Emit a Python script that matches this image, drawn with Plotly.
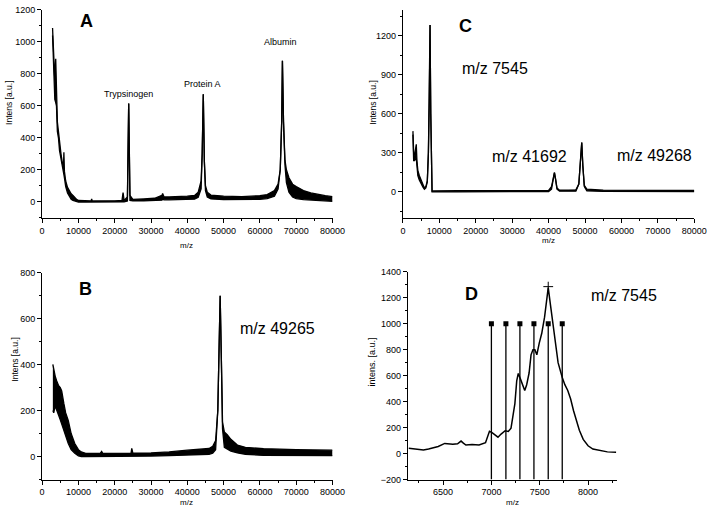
import plotly.graph_objects as go

W, H = 720, 512

# ---------------- Panel A ----------------
a_mz = [2880, 3050, 3250, 3500, 3750, 3950, 4200, 4500, 4800, 5200, 5600, 5900, 6000, 6150,
        6500, 7000, 7500, 8000, 8500, 9000, 9500, 10000, 12000, 13500, 13650, 13800, 20000,
        22000, 22300, 22600, 23500, 23850, 24200, 25000, 28000, 31000, 33000, 33200, 33600,
        35000, 40000, 42000, 43000, 43800, 44100, 44400, 44700, 45000, 45500, 46500, 50000,
        55000, 60000, 62000, 64000, 65000, 65600, 66000, 66200, 66500, 66900, 67300, 68000,
        69000, 70000, 72000, 74000, 76000, 78000, 80000]
a_up = [1087, 1000, 820, 760, 895, 640, 500, 440, 360, 300, 240, 230, 310, 190,
        130, 90, 70, 50, 40, 25, 15, 8, 5, 5, 18, 5, 6,
        8, 57, 8, 30, 615, 40, 15, 18, 22, 40, 52, 30,
        30, 35, 40, 60, 130, 300, 673, 250, 100, 60, 42, 35,
        32, 38, 45, 70, 110, 200, 500, 882, 500, 260, 200, 150,
        110, 95, 70, 55, 45, 38, 32]
a_lo = [1040, 900, 690, 640, 620, 600, 440, 400, 320, 260, 200, 180, 170, 150,
        95, 55, 35, 15, 8, 3, 0, -2, -2, -2, -2, -2, -1,
        0, 0, 0, 5, 615, 8, 5, 5, 6, 10, 15, 12,
        12, 14, 16, 28, 80, 300, 673, 250, 70, 30, 18, 14,
        14, 15, 20, 35, 80, 200, 500, 882, 500, 230, 120, 60,
        30, 20, 14, 12, 8, 5, 3]

# ---------------- Panel B ----------------
b_mz = [2960, 3200, 3600, 4000, 4500, 5000, 5400, 6000, 6500, 7200, 8000, 9000, 10000, 10800,
        12000, 16000, 16400, 16700, 20000, 24500, 24700, 25000, 30000, 35000, 40000, 44000,
        46000, 47000, 47800, 48400, 48800, 49050, 49350, 49700, 50200, 51000, 52000, 53800,
        56000, 61000, 70000, 80000]
b_up = [401, 380, 350, 330, 310, 300, 285, 230, 190, 157, 100, 57, 30, 20,
        14, 14, 22, 14, 14, 15, 36, 15, 16, 20, 28, 32,
        35, 45, 70, 200, 550, 700, 450, 150, 107, 95, 75, 50,
        40, 34, 30, 28]
b_lo = [200, 190, 220, 200, 175, 160, 142, 110, 85, 57, 30, 14, 3, 0,
        0, 0, 0, 0, 0, 2, 2, 2, 2, 4, 6, 8,
        10, 15, 30, 200, 550, 700, 450, 120, 40, 34, 24, 16,
        10, 5, 4, 4]

# ---------------- Panel C ----------------
c_mz = [2750, 2950, 3200, 3500, 3670, 3850, 4100, 4500, 5000, 5500, 5900, 6300, 6700, 7000,
        7250, 7450, 7650, 7800, 8000, 15000, 24000, 24800, 25500, 35000, 40000, 40800, 41300,
        41600, 41900, 42300, 43000, 47500, 48300, 48800, 49100, 49400, 49800, 50500, 55000,
        80000]
c_up = [467, 300, 280, 330, 366, 240, 165, 125, 85, 55, 30, 40, 85, 300,
        700, 1283, 600, 20, 6, 8, 10, 12, 8, 8, 10, 40, 120,
        147, 100, 30, 12, 15, 60, 250, 379, 200, 50, 20, 12,
        10]
c_lo = [440, 240, 240, 250, 260, 200, 125, 90, 60, 35, 20, 30, 75, 300,
        700, 1283, 600, 20, 0, 0, 0, 2, 0, 0, 2, 20, 120,
        147, 100, 20, 5, 5, 60, 250, 379, 200, 40, 8, 3,
        2]

# ---------------- Panel D ----------------
d_mz = [6145, 6220, 6297, 6350, 6399, 6450, 6517, 6560, 6601, 6650, 6686, 6710, 6736, 6800,
        6872, 6939, 6980, 7007, 7040, 7068, 7100, 7142, 7175, 7203, 7225, 7243, 7262, 7278,
        7300, 7320, 7345, 7365, 7390, 7410, 7430, 7450, 7470, 7495, 7521, 7550, 7570, 7588,
        7610, 7632, 7660, 7690, 7733, 7760, 7790, 7820, 7850, 7880, 7910, 7950, 8000, 8050,
        8120, 8200, 8290]
d_int = [41, 35, 28, 35, 45, 55, 78, 75, 71, 75, 96, 80, 66, 70,
         66, 83, 171, 161, 140, 126, 150, 176, 170, 196, 300, 385, 560, 617,
         575, 530, 486, 530, 620, 760, 800, 800, 760, 850, 926, 1050, 1200, 1278,
         1150, 1014, 850, 700, 586, 530, 486, 420, 330, 250, 180, 109, 60, 35,
         22, 13, 10]
d_stick_mz = [7000, 7150, 7295, 7440, 7588, 7733]
d_stick_top = [1000, 1000, 1000, 1000, 1000, 1000]
d_axis_floor = -200
d_peak_mz = [7588]
d_peak_int = [1285]

FONT = "Liberation Sans, Arial, sans-serif"


def xdom(a, b):
    return [a / W, b / W]


def ydom(top, bottom):
    return [1 - bottom / H, 1 - top / H]


fig = go.Figure()


def band(x, lo, up, xa, ya):
    fig.add_trace(go.Scatter(x=x, y=lo, mode="lines", xaxis=xa, yaxis=ya,
                             line=dict(color="black", width=1.3), showlegend=False,
                             hoverinfo="skip"))
    fig.add_trace(go.Scatter(x=x, y=up, mode="lines", xaxis=xa, yaxis=ya, fill="tonexty",
                             fillcolor="black", line=dict(color="black", width=1.3),
                             showlegend=False))


band(a_mz, a_lo, a_up, "x", "y")
band(c_mz, c_lo, c_up, "x2", "y2")
band(b_mz, b_lo, b_up, "x3", "y3")

# D sticks
sx, sy = [], []
for m, t in zip(d_stick_mz, d_stick_top):
    sx += [m, m, None]
    sy += [d_axis_floor, t, None]
fig.add_trace(go.Scatter(x=sx, y=sy, mode="lines", xaxis="x4", yaxis="y4",
                         line=dict(color="black", width=1.3), showlegend=False))
fig.add_trace(go.Scatter(x=d_stick_mz, y=d_stick_top, mode="markers", xaxis="x4", yaxis="y4",
                         marker=dict(symbol="square", size=5, color="black"), showlegend=False))
fig.add_trace(go.Scatter(x=d_mz, y=d_int, mode="lines", xaxis="x4", yaxis="y4",
                         line=dict(color="black", width=1.5), showlegend=False))
fig.add_trace(go.Scatter(x=d_peak_mz, y=d_peak_int, mode="markers", xaxis="x4", yaxis="y4",
                         marker=dict(symbol="cross-thin", size=7,
                                     line=dict(color="black", width=1)), showlegend=False))


def axis(domain, rng, dtick, minor_dtick, anchor):
    return dict(domain=domain, range=rng, dtick=dtick, showline=True, linecolor="black",
                linewidth=1, ticks="outside", ticklen=4, tickwidth=1, tickcolor="black",
                showgrid=False, zeroline=False, anchor=anchor, tickformat="d",
                tickfont=dict(family=FONT, size=9, color="black"),
                minor=dict(dtick=minor_dtick, ticks="outside", ticklen=2, tickcolor="black",
                           showgrid=False))


fig.update_layout(
    width=W, height=H, margin=dict(l=0, r=0, t=0, b=0),
    plot_bgcolor="white", paper_bgcolor="white", showlegend=False,
    xaxis=axis(xdom(40, 337), [0, 80000], 10000, 5000, "y"),
    yaxis=axis(ydom(5, 217), [-100, 1200], 200, 100, "x"),
    xaxis2=axis(xdom(409, 707), [0, 80000], 10000, 5000, "y2"),
    yaxis2=axis(ydom(5, 217), [-200, 1400], 300, 150, "x2"),
    xaxis3=axis(xdom(40, 337), [0, 80000], 10000, 5000, "y3"),
    yaxis3=axis(ydom(273, 484), [-100, 800], 200, 100, "x3"),
    xaxis4=axis(xdom(414, 628), [6135, 8300], 500, 250, "y4"),
    yaxis4=axis(ydom(272, 484), [-200, 1400], 200, 100, "x4"),
)


def ann(text, px, py, size, bold=False, angle=0):
    fig.add_annotation(text=("<b>%s</b>" % text) if bold else text, x=px / W, y=1 - py / H,
                       xref="paper", yref="paper", showarrow=False, textangle=angle,
                       xanchor="center", yanchor="middle",
                       font=dict(family=FONT, size=size, color="black"))


# panel letters
ann("A", 85, 16, 18, bold=True)
ann("B", 84, 290, 18, bold=True)
ann("C", 473, 21, 18, bold=True)
ann("D", 479, 295, 18, bold=True)

# peak labels
ann("Trypsinogen", 128, 91, 9)
ann("Protein A", 204, 81, 9)
ann("Albumin", 284, 38, 9)
ann("m/z 7545", 503, 65, 16)
ann("m/z 41692", 538, 155, 16)
ann("m/z 49268", 666, 153, 16)
ann("m/z 49265", 281, 330, 16)
ann("m/z 7545", 635, 296, 16)

# axis titles
ann("Intens [a.u.]", 6, 100, 8.5, angle=-90)
ann("Intens [a.u.]", 12, 362, 8.5, angle=-90)
ann("Intens [a.u.]", 378, 100, 8.5, angle=-90)
ann("intens. [a.u.]", 377, 364, 9, angle=-90)
ann("m/z", 188, 245, 8)
ann("m/z", 188, 507, 8)
ann("m/z", 558, 240, 8)
ann("m/z", 521, 507, 8)

fig.write_html("out.html", config={"displayModeBar": False},
               post_script="document.body.style.margin='0px';")
